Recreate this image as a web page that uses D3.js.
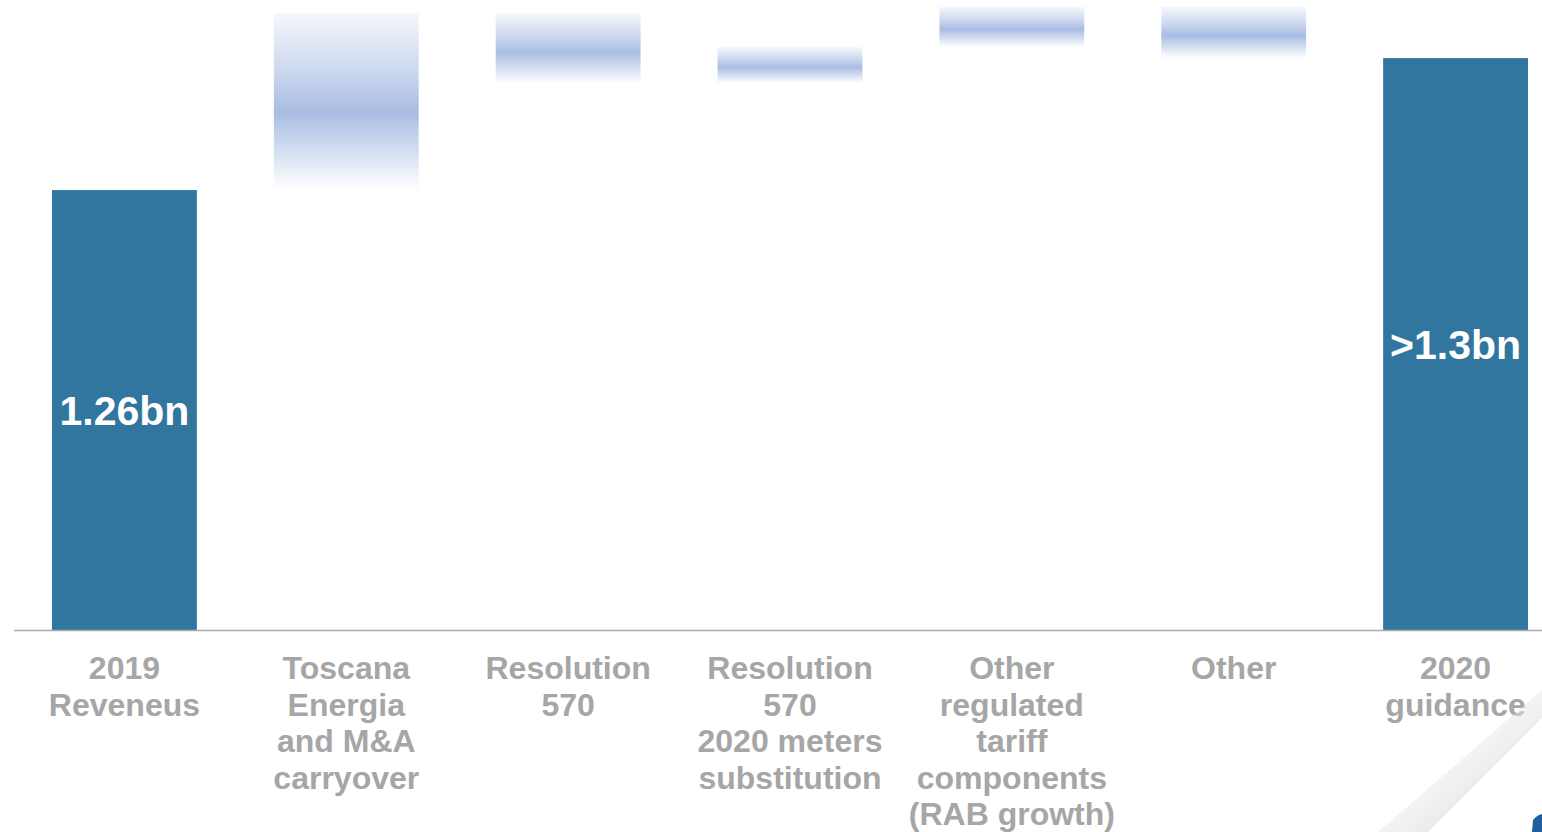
<!DOCTYPE html>
<html>
<head>
<meta charset="utf-8">
<script src="https://cdn.jsdelivr.net/npm/d3@7"></script>
<style>
  html, body { margin: 0; padding: 0; background: #ffffff; }
  svg { display: block; }
  text { font-family: "Liberation Sans", Arial, sans-serif; font-weight: bold; }
</style>
</head>
<body>
<svg id="chart" width="1542" height="832"></svg>
<script>
// Revenue bridge 2019 -> 2020 guidance (bn EUR)
const categories = [
  "2019 Reveneus",
  "Toscana Energia and M&A carryover",
  "Resolution 570",
  "Resolution 570 2020 meters substitution",
  "Other regulated tariff components (RAB growth)",
  "Other",
  "2020 guidance"
];
const labelLines = [
  ["2019", "Reveneus"],
  ["Toscana", "Energia", "and M&A", "carryover"],
  ["Resolution", "570"],
  ["Resolution", "570", "2020 meters", "substitution"],
  ["Other", "regulated", "tariff", "components", "(RAB growth)"],
  ["Other"],
  ["2020", "guidance"]
];
const barKind = ["total", "step", "step", "step", "step", "step", "total"];
const barLow  = [null, 1.260, 1.2924, 1.2924, 1.3033, 1.3000, null];
const barHigh = [1.260, 1.3136, 1.3136, 1.3033, 1.3155, 1.3155, 1.300];
const valueLabels = ["1.26bn", "", "", "", "", "", ">1.3bn"];

// value axis is cut: the bars start from this floor
const yFloor = 1.1267, yCeil = 1.3176;

const W = 1542, H = 832;
const baseY = 630;
const svg = d3.select("#chart");

const x = d3.scaleBand()
  .domain(categories)
  .range([13.5, 1566.5])
  .paddingInner(0.347)
  .paddingOuter(0.1735);

const y = d3.scaleLinear()
  .domain([yFloor, yCeil])
  .range([baseY, 0]);

// soft blue gradient for the incremental steps
const defs = svg.append("defs");
const g = defs.append("linearGradient")
  .attr("id", "stepFill")
  .attr("x1", 0).attr("y1", 0).attr("x2", 0).attr("y2", 1);
[[0, 0.12], [0.3, 0.55], [0.56, 1], [0.8, 0.45], [1, 0.0]].forEach(([o, a]) => {
  g.append("stop").attr("offset", o).attr("stop-color", "#a9bde3").attr("stop-opacity", a);
});

const data = categories.map((c, i) => ({
  cat: c,
  kind: barKind[i],
  lo: barKind[i] === "total" ? yFloor : barLow[i],
  hi: barHigh[i],
  label: valueLabels[i],
  lines: labelLines[i]
}));

const bars = svg.append("g");
bars.selectAll("rect")
  .data(data)
  .join("rect")
  .attr("x", d => x(d.cat))
  .attr("width", x.bandwidth())
  .attr("y", d => y(d.hi))
  .attr("height", d => y(d.lo) - y(d.hi))
  .attr("fill", d => d.kind === "total" ? "#31769f" : "url(#stepFill)");

// value labels centred inside the total bars
svg.append("g").selectAll("text")
  .data(data.filter(d => d.label))
  .join("text")
  .attr("x", d => x(d.cat) + x.bandwidth() / 2)
  .attr("y", d => (y(d.hi) + y(d.lo)) / 2)
  .attr("text-anchor", "middle")
  .attr("dy", "0.36em")
  .attr("fill", "#ffffff")
  .attr("font-size", 41)
  .text(d => d.label);

// category axis
const axis = svg.append("g")
  .attr("transform", `translate(0,${baseY})`)
  .call(d3.axisBottom(x).tickSize(0).tickSizeOuter(0).tickFormat(""));
axis.select(".domain").attr("stroke", "#aaaaaa").attr("stroke-width", 1.6);

axis.selectAll(".tick text").remove();
axis.selectAll(".tick").each(function (cat) {
  const lines = data.find(d => d.cat === cat).lines;
  const t = d3.select(this).append("text")
    .attr("text-anchor", "middle")
    .attr("fill", "#a6a6a6")
    .attr("font-size", 32);
  lines.forEach((ln, k) => {
    t.append("tspan").attr("x", 0).attr("y", 49 + k * 36.5).text(ln);
  });
});

// folded page corner, bottom right
const curl = defs.append("linearGradient")
  .attr("id", "curlShade")
  .attr("x1", 0).attr("y1", 0).attr("x2", 1).attr("y2", 1);
curl.append("stop").attr("offset", 0).attr("stop-color", "#ffffff").attr("stop-opacity", 0);
curl.append("stop").attr("offset", 0.75).attr("stop-color", "#d9d9d9").attr("stop-opacity", 0.7);
curl.append("stop").attr("offset", 1).attr("stop-color", "#c8c8c8").attr("stop-opacity", 0.9);
svg.append("path")
  .attr("d", `M${W},690 L${W},832 L1378,832 Z`)
  .attr("fill", "url(#curlShade)");
svg.append("path")
  .attr("d", `M${W},718 L${W},832 L1428,832 Z`)
  .attr("fill", "#ffffff");
svg.append("path")
  .attr("d", `M1532,832 L1533,820 Q1537,815 ${W},814 L${W},832 Z`)
  .attr("fill", "#1f5f9e");
</script>
</body>
</html>
